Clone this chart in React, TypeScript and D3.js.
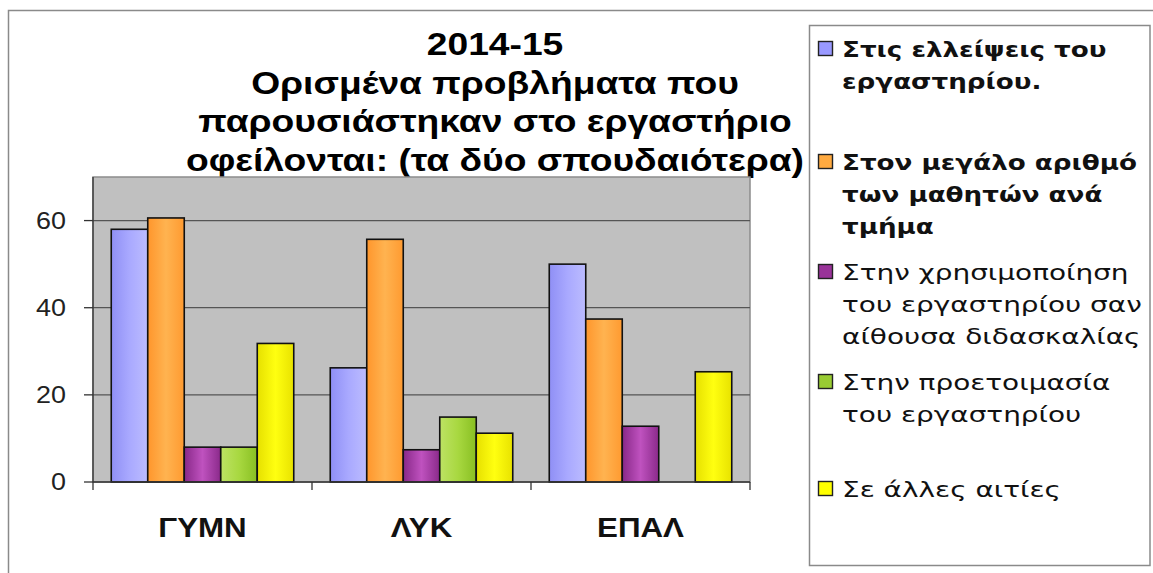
import * as d3 from "d3";

const categories = ["ΓΥΜΝ", "ΛΥΚ", "ΕΠΑΛ"];
const seriesKeys = ["s1", "s2", "s3", "s4", "s5"];
const blueValues = [58, 26.2, 50];
const orangeValues = [60.6, 55.7, 37.4];
const purpleValues = [8, 7.4, 12.8];
const greenValues = [8, 14.9, 0];
const yellowValues = [31.8, 11.2, 25.3];
const yTicks = [0, 20, 40, 60];
const titleLines = [
  "2014-15",
  "Ορισμένα προβλήματα που",
  "παρουσιάστηκαν στο εργαστήριο",
  "οφείλονται: (τα δύο σπουδαιότερα)",
];
const legendLines = [
  ["Στις ελλείψεις του", "εργαστηρίου."],
  ["Στον μεγάλο αριθμό", "των μαθητών ανά", "τμήμα"],
  ["Στην χρησιμοποίηση", "του εργαστηρίου σαν", "αίθουσα διδασκαλίας"],
  ["Στην προετοιμασία", "του εργαστηρίου"],
  ["Σε άλλες αιτίες"],
];

const allValues = [blueValues, orangeValues, purpleValues, greenValues, yellowValues];

// gradient stops per series (left -> right)
const gradients = [
  ["#8f8ff5", "#a9a9ff", "#bcbcff"],
  ["#ff962c", "#ffb350", "#ff9a30"],
  ["#882888", "#bf52bf", "#8a2a8a"],
  ["#bde264", "#a8d840", "#88bf22"],
  ["#e6e000", "#ffff10", "#e8e200"],
];
const legendColors = ["#9999ff", "#ffaa40", "#993399", "#99cc33", "#ffff00"];

export default function App() {
  const width = 1153;
  const height = 573;
  const plot = { left: 93, right: 750, top: 177, bottom: 482 };

  const x0 = d3.scaleBand(categories, [plot.left, plot.right]).paddingInner(0).paddingOuter(0);
  const x1 = d3.scaleBand(seriesKeys, [0, x0.bandwidth()]).paddingInner(0).paddingOuter(0.5);
  const y = d3.scaleLinear([0, 70], [plot.bottom, plot.top]);

  const legendY = [57, 170, 280, 390, 497];
  const legendLineGap = 32;
  const sans = "'Liberation Sans', Arial, sans-serif";

  return (
    <div style={{ position: "absolute", left: 0, top: 0 }}>
      <svg width={width} height={height} style={{ display: "block", background: "#fff" }}>
        <defs>
          {gradients.map((g, i) => (
            <linearGradient key={i} id={`grad${i}`} x1="0" x2="1" y1="0" y2="0">
              <stop offset="0" stopColor={g[0]} />
              <stop offset="0.5" stopColor={g[1]} />
              <stop offset="1" stopColor={g[2]} />
            </linearGradient>
          ))}
        </defs>

        {/* outer chart frame */}
        <path d={`M8.5,${height} V10.5 H${width}`} fill="none" stroke="#8a8a8a" strokeWidth={1.5} />

        {/* title (reference is horizontally stretched) */}
        <g fontFamily={sans} fontWeight="bold" fontSize={31} fill="#000" textAnchor="middle">
          {titleLines.map((t, i) => (
            <text key={i} transform={`translate(495,${55 + i * 38.5}) scale(1.2,1)`}>{t}</text>
          ))}
        </g>

        {/* plot area */}
        <rect x={plot.left} y={plot.top} width={plot.right - plot.left} height={plot.bottom - plot.top} fill="#c0c0c0" stroke="#8c8c8c" strokeWidth={1.5} />
        {yTicks.filter((t) => t > 0).map((t) => (
          <line key={t} x1={plot.left} x2={plot.right} y1={y(t)} y2={y(t)} stroke="#555" strokeWidth={1.3} />
        ))}

        {/* bars */}
        {categories.map((c, ci) => (
          <g key={c} transform={`translate(${x0(c)},0)`}>
            {seriesKeys.map((s, si) => {
              const v = allValues[si][ci];
              if (!v) return null;
              return (
                <rect
                  key={s}
                  x={x1(s)}
                  y={y(v)}
                  width={x1.bandwidth()}
                  height={y(0) - y(v)}
                  fill={`url(#grad${si})`}
                  stroke="#111"
                  strokeWidth={1.6}
                />
              );
            })}
          </g>
        ))}

        {/* axes */}
        <line x1={plot.left} x2={plot.left} y1={plot.top} y2={plot.bottom} stroke="#333" strokeWidth={1.3} />
        <line x1={plot.left} x2={plot.right} y1={plot.bottom} y2={plot.bottom} stroke="#333" strokeWidth={1.3} />
        {yTicks.map((t) => (
          <g key={t}>
            <line x1={plot.left - 9} x2={plot.left} y1={y(t)} y2={y(t)} stroke="#333" strokeWidth={1.3} />
            <text transform={`translate(66,${y(t) + 8}) scale(1.17,1)`} fontFamily={sans} fontSize={23} textAnchor="end" fill="#222">{t}</text>
          </g>
        ))}
        {[...categories.map((c) => x0(c) as number), plot.right].map((xv, i) => (
          <line key={i} x1={xv} x2={xv} y1={plot.bottom} y2={plot.bottom + 8} stroke="#333" strokeWidth={1.3} />
        ))}
        {categories.map((c) => (
          <text key={c} transform={`translate(${(x0(c) as number) + x0.bandwidth() / 2},537) scale(1.16,1)`} fontFamily={sans} fontWeight="bold" fontSize={27} textAnchor="middle" fill="#111">{c}</text>
        ))}

        {/* legend */}
        <rect x={809.5} y={25.5} width={1150 - 809.5} height={540} fill="#fff" stroke="#8a8a8a" strokeWidth={1.5} />
        {legendLines.map((lines, i) => (
          <g key={i}>
            <rect x={818.5} y={legendY[i] - 15.5} width={14} height={14} fill={legendColors[i]} stroke="#222" strokeWidth={1.4} />
            {lines.map((l, j) => (
              <text
                key={j}
                transform={`translate(842,${legendY[i] + j * legendLineGap}) scale(${i < 2 ? 1.19 : 1.27},1)`}
                fontFamily="'DejaVu Sans', Verdana, sans-serif"
                fontWeight={i < 2 ? "bold" : "normal"}
                fontSize={22}
                fill="#111"
              >
                {l}
              </text>
            ))}
          </g>
        ))}
      </svg>
    </div>
  );
}
